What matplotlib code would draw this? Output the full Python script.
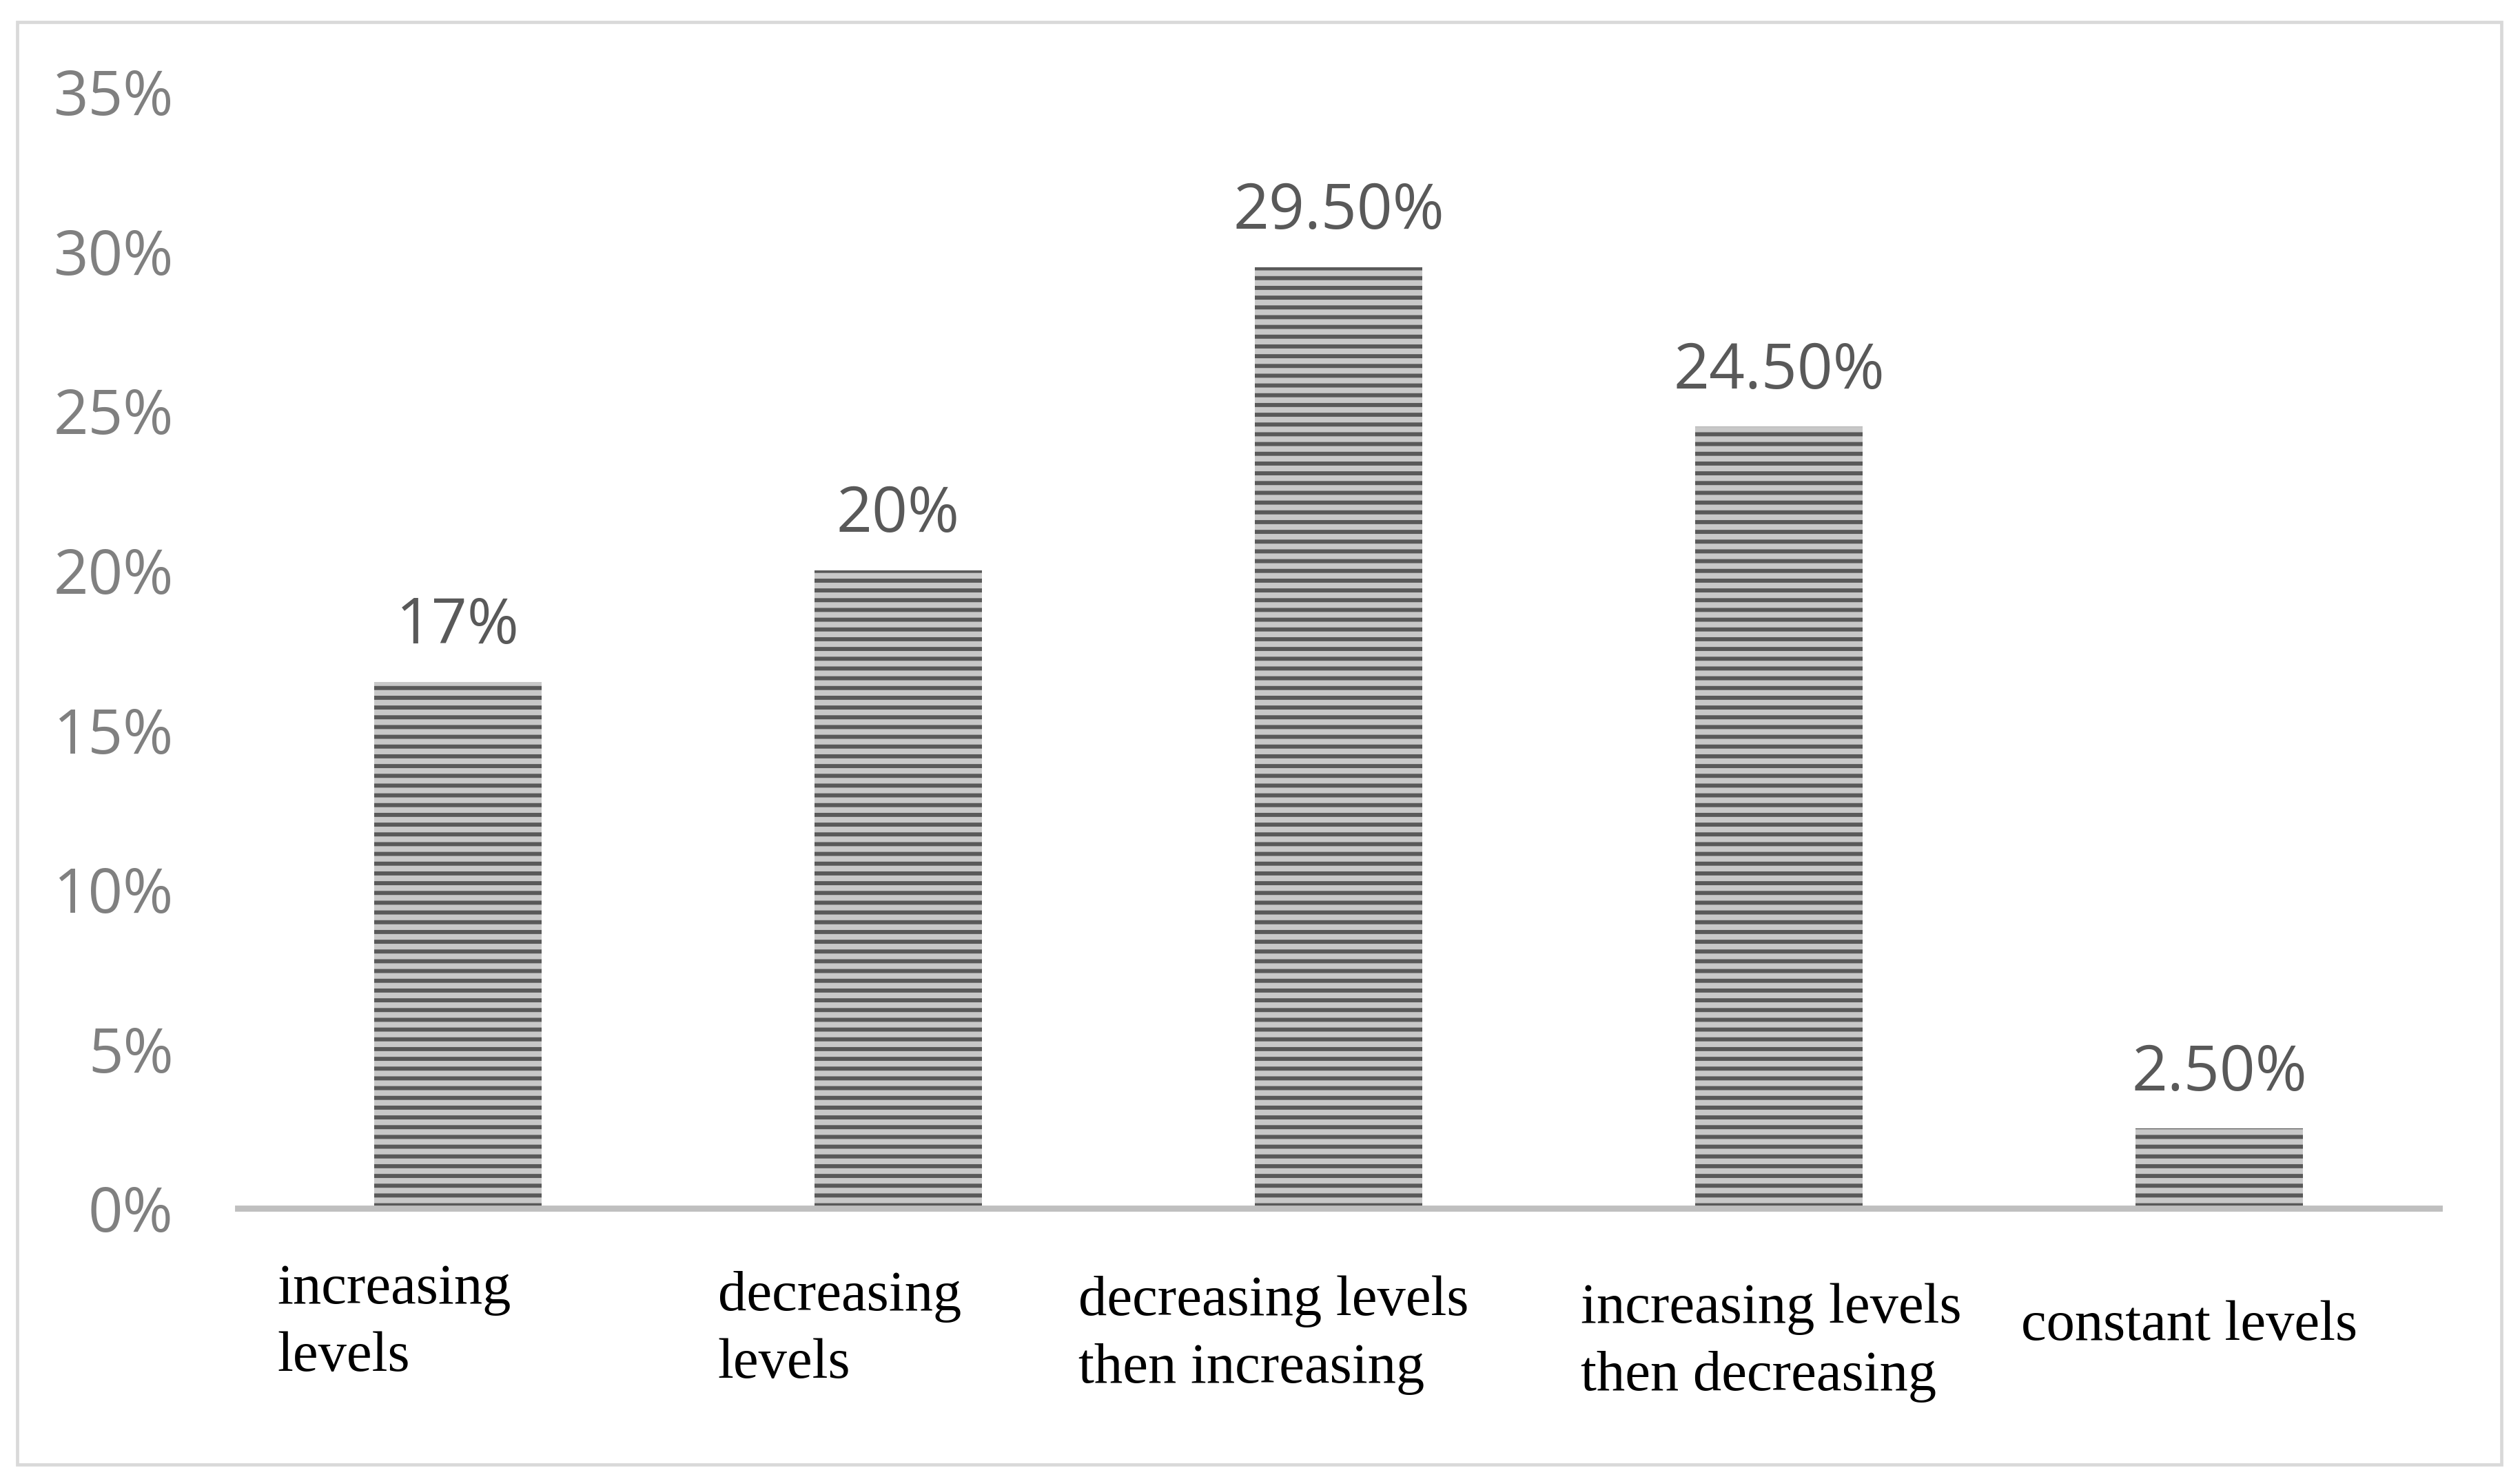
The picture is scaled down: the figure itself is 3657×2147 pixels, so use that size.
import matplotlib
matplotlib.use("Agg")
import matplotlib.pyplot as plt
from matplotlib.patches import Rectangle

# data
categories = ["increasing\nlevels", "decreasing\nlevels", "decreasing levels\nthen increasing",
              "increasing levels\nthen decreasing", "constant levels"]
values = [16.5, 20.0, 29.5, 24.5, 2.5]
value_labels = ["17%", "20%", "29.50%", "24.50%", "2.50%"]
y_ticks = [0, 5, 10, 15, 20, 25, 30, 35]

# label placement (x offset from bar centre, baseline of last line in axes fraction)
label_dx = [-0.41, -0.41, -0.59, -0.45, -0.45]
label_y = [-0.1456, -0.1518, -0.1561, -0.1628, -0.1178]

DPI = 85
plt.rcParams['hatch.linewidth'] = 5

fig = plt.figure(figsize=(3657 / DPI, 2147 / DPI), dpi=DPI)
ax = fig.add_axes([345 / 3657, 1 - 1754 / 2147, (3540 - 345) / 3657, (1754 - 133) / 2147])

x = list(range(len(values)))
ax.bar(x, values, width=0.38, color='#c8c8c8', edgecolor='#595959',
       linewidth=0, hatch='-', zorder=2)

for xi, v, lab in zip(x, values, value_labels):
    ax.annotate(lab, (xi, v), xytext=(0, 47), textcoords='offset points',
                ha='center', va='baseline', fontsize=77, color='#595959',
                family='Open Sans')

for xi, cat, dx, ly in zip(x, categories, label_dx, label_y):
    ax.text(xi + dx, ly, cat, transform=ax.get_xaxis_transform(),
            ha='left', va='baseline', fontsize=70, color='black',
            family='Liberation Serif', linespacing=1.39)

ax.set_xlim(-0.5, 4.5)
ax.set_ylim(0, 35)
ax.set_yticks(y_ticks)
ax.set_yticklabels([f"{t}%" for t in y_ticks], family='Open Sans', fontsize=75, color='#808080')
ax.tick_params(axis='y', length=0, pad=79)
ax.set_xticks([])
for side in ['top', 'right', 'left']:
    ax.spines[side].set_visible(False)
ax.spines['bottom'].set_color('#bfbfbf')
ax.spines['bottom'].set_linewidth(7.5)
ax.spines['bottom'].set_zorder(3)

# outer border of the chart area
fig.patches.append(Rectangle((25 / 3657, 1 - 2126 / 2147), (3630 - 25) / 3657, (2126 - 32) / 2147,
                             transform=fig.transFigure, fill=False, edgecolor='#d9d9d9',
                             linewidth=4))

fig.savefig("out.png", dpi=DPI, facecolor='white')
